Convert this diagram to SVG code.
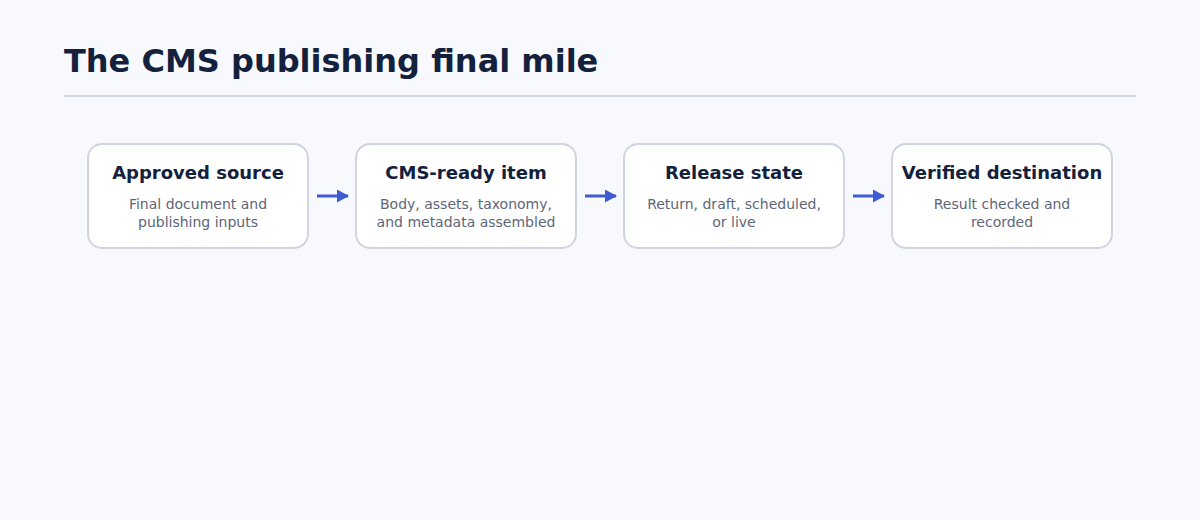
<svg xmlns="http://www.w3.org/2000/svg" width="1200" height="520" viewBox="0 0 1200 520">
<defs>
<style>
.bg{fill:#f7f9fd}
.title{font-family:"DejaVu Sans",sans-serif;font-weight:bold;font-size:32px;fill:#14213d}
.box{fill:#ffffff;stroke:#cfd4de;stroke-width:2}
.nt{font-family:"DejaVu Sans",sans-serif;font-weight:bold;font-size:18px;fill:#14213d;text-anchor:middle}
.nd{font-family:"DejaVu Sans",sans-serif;font-size:14px;fill:#5d6678;text-anchor:middle}
.conn{stroke:#3f5bd1;stroke-width:3;fill:none}
</style>
<marker id="ah" markerWidth="12" markerHeight="13" refX="11" refY="6.5" orient="auto" markerUnits="userSpaceOnUse">
<path d="M0,0 L12,6.5 L0,13 Z" fill="#3f5bd1"/>
</marker>
</defs>
<rect class="bg" x="0" y="0" width="1200" height="520"/>
<text class="title" x="64" y="72">The CMS publishing final mile</text>
<line x1="64" y1="96" x2="1136" y2="96" stroke="#cfd4de" stroke-width="2"/>
<g id="connectors">
<line class="conn" x1="317" y1="196" x2="348" y2="196" marker-end="url(#ah)"/>
<line class="conn" x1="585" y1="196" x2="616" y2="196" marker-end="url(#ah)"/>
<line class="conn" x1="853" y1="196" x2="884" y2="196" marker-end="url(#ah)"/>
</g>
<g id="node1">
<rect class="box" x="88" y="144" width="220" height="104" rx="14"/>
<text class="nt" x="198" y="179">Approved source</text>
<text class="nd" x="198" y="209">Final document and</text>
<text class="nd" x="198" y="227">publishing inputs</text>
</g>
<g id="node2">
<rect class="box" x="356" y="144" width="220" height="104" rx="14"/>
<text class="nt" x="466" y="179">CMS-ready item</text>
<text class="nd" x="466" y="209">Body, assets, taxonomy,</text>
<text class="nd" x="466" y="227">and metadata assembled</text>
</g>
<g id="node3">
<rect class="box" x="624" y="144" width="220" height="104" rx="14"/>
<text class="nt" x="734" y="179">Release state</text>
<text class="nd" x="734" y="209">Return, draft, scheduled,</text>
<text class="nd" x="734" y="227">or live</text>
</g>
<g id="node4">
<rect class="box" x="892" y="144" width="220" height="104" rx="14"/>
<text class="nt" x="1002" y="179">Verified destination</text>
<text class="nd" x="1002" y="209">Result checked and</text>
<text class="nd" x="1002" y="227">recorded</text>
</g>
</svg>
